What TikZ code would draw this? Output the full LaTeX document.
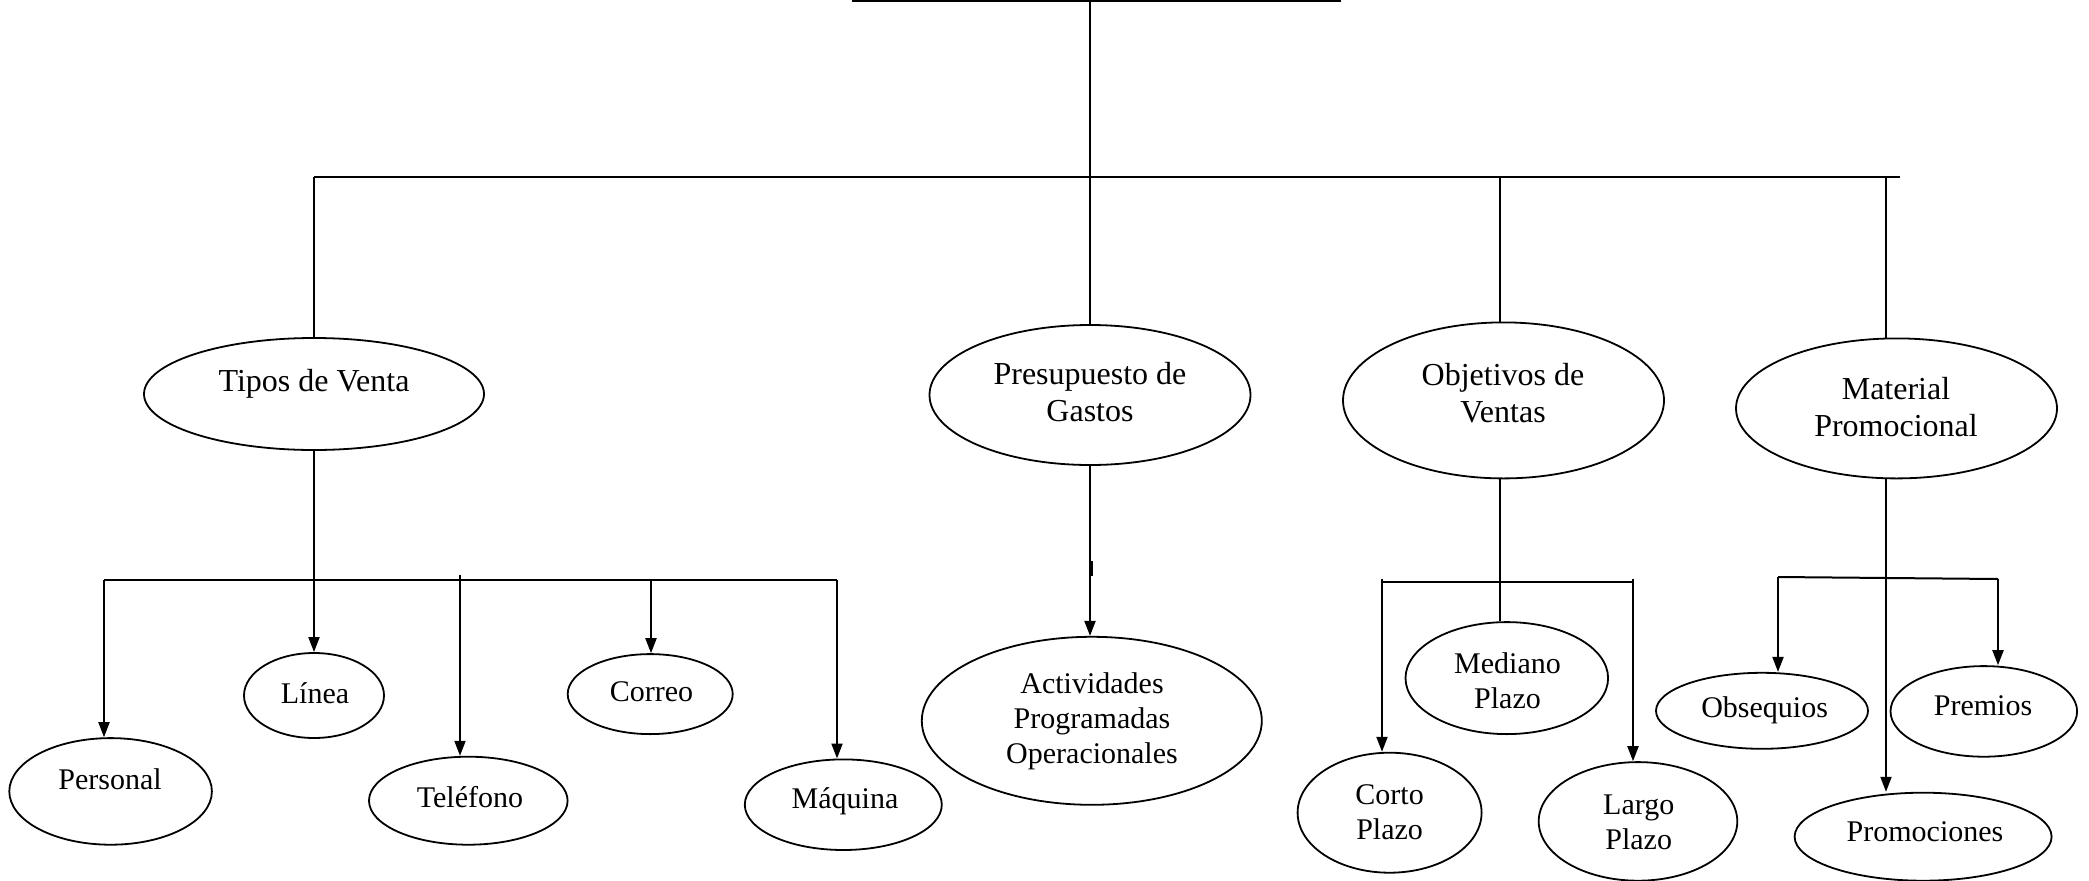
\documentclass[tikz,border=0pt]{standalone}
\usepackage{fontspec}
\setmainfont{Liberation Serif}
\usetikzlibrary{shapes.geometric,arrows.meta}
\begin{document}
\begin{tikzpicture}[x=1pt,y=-1pt,
  oval/.style={draw, ellipse, line width=1.8pt, inner sep=0pt},
  txt/.style={align=center, inner sep=0pt, font=\fontsize{30}{35}\selectfont},
  bigtxt/.style={txt, font=\fontsize{32}{37.5}\selectfont},
  link/.style={line width=2pt},
  arr/.style={link, -{Triangle[length=15pt,width=11pt]}}]
\useasboundingbox (0,0) rectangle (2089,881);

% top box (only its lower part lies on the page)
\node[draw, line width=2pt, minimum width=487pt, minimum height=60pt,
      anchor=south, inner sep=0pt] (root) at (1096.5,2) {};

% second level
\node[oval, minimum width=340pt, minimum height=112pt] (tipos) at (314,394) {};
\node[bigtxt] (tiposT) at (314,384) {Tipos de Venta};
\node[oval, minimum width=321pt, minimum height=140pt] (presup) at (1090,395) {};
\node[bigtxt] (presupT) at (1090,392) {Presupuesto de\\Gastos};
\node[oval, minimum width=321pt, minimum height=156pt] (obj) at (1503.5,400.4) {};
\node[bigtxt] (objT) at (1503,393) {Objetivos de\\Ventas};
\node[oval, minimum width=321pt, minimum height=140pt] (mat) at (1896.5,408.4) {};
\node[bigtxt] (matT) at (1896,407) {Material\\Promocional};

% sales types
\node[oval, minimum width=202.6pt, minimum height=106.6pt] (personal) at (110.6,791.4) {};
\node[txt] (personalT) at (110,779) {Personal};
\node[oval, minimum width=140pt, minimum height=85pt] (linea) at (314,695.5) {};
\node[txt] (lineaT) at (315,693) {Línea};
\node[oval, minimum width=198.6pt, minimum height=88pt] (telef) at (468.3,800.7) {};
\node[txt] (telefT) at (470,797) {Teléfono};
\node[oval, minimum width=165pt, minimum height=80pt] (correo) at (650.2,694.1) {};
\node[txt] (correoT) at (651.5,691.5) {Correo};
\node[oval, minimum width=197pt, minimum height=90.6pt] (maq) at (843.3,804.7) {};
\node[txt] (maqT) at (845,801) {Máquina};

% budget
\node[oval, minimum width=340pt, minimum height=168pt] (activ) at (1091.8,720.8) {};
\node[txt] (activT) at (1092,721) {Actividades\\Programadas\\Operacionales};

% sales objectives
\node[oval, minimum width=202.6pt, minimum height=112pt] (med) at (1506.8,678.1) {};
\node[txt] (medT) at (1507.5,681) {Mediano\\Plazo};
\node[oval, minimum width=184pt, minimum height=120pt] (corto) at (1389.6,812.7) {};
\node[txt] (cortoT) at (1389.6,812.7) {Corto\\Plazo};
\node[oval, minimum width=198.6pt, minimum height=118.6pt] (largo) at (1638,821.4) {};
\node[txt] (largoT) at (1638.7,822.7) {Largo\\Plazo};

% promotional material
\node[oval, minimum width=212pt, minimum height=76pt] (obseq) at (1762,710.8) {};
\node[txt] (obseqT) at (1764.6,710) {Obsequios};
\node[oval, minimum width=186.6pt, minimum height=90.6pt] (premios) at (1983.8,711.4) {};
\node[txt] (premiosT) at (1983,706) {Premios};
\node[oval, minimum width=257pt, minimum height=88pt] (promo) at (1923.1,836.7) {};
\node[txt] (promoT) at (1925,831.4) {Promociones};

% main bus
\coordinate (busA) at (314,177);
\coordinate (busB) at (1900,177);
\coordinate (dropO) at (1500,177);
\coordinate (dropM) at (1886,177);
\draw[link] (busA) -- (busB);
\draw[link] (root.south -| presup.north) -- (presup.north);
\draw[link] (busA) -- (tipos.north);
\draw[link] (dropO) -- (dropO |- obj.north);
\draw[link] (dropM) -- (dropM |- mat.north);

% sales types branch
\coordinate (tL) at (104,580);
\coordinate (tR) at (837,580);
\coordinate (tTel) at (460,575);
\coordinate (tCor) at (651,580);
\draw[link] (tL) -- (tR);
\draw[arr] (tipos.south) -- (linea.north);
\draw[arr] (tL) -- (tL |- personal.north);
\draw[arr] (tTel) -- (tTel |- telef.north);
\draw[arr] (tCor) -- (tCor |- correo.north);
\draw[arr] (tR) -- (tR |- maq.north);

% budget branch
\draw[arr] (presup.south) -- (presup.south |- activ.north);
\coordinate (tk1) at (1091.5,561);
\coordinate (tk2) at (1091.5,576);
\draw[line width=2.2pt] (tk1) -- (tk2);

% objectives branch
\coordinate (oL) at (1382,582);
\coordinate (oR) at (1633,582);
\coordinate (oV) at (1500,582);
\draw[link] (oL) -- (oR);
\draw[link] (oV |- obj.south) -- (oV |- med.north);
\draw[arr] ([yshift=3pt]oL) -- (oL |- corto.north);
\draw[arr] ([yshift=3pt]oR) -- (oR |- largo.north);

% promotional material branch
\coordinate (mL) at (1778,577);
\coordinate (mR) at (1998,579);
\coordinate (mV) at (1886,578);
\draw[link] (mL) -- (mR);
\draw[arr] (mV |- mat.south) -- (mV |- promo.north);
\draw[arr] (mL) -- (mL |- obseq.north);
\draw[arr] (mR) -- (mR |- premios.north);
\end{tikzpicture}
\end{document}
